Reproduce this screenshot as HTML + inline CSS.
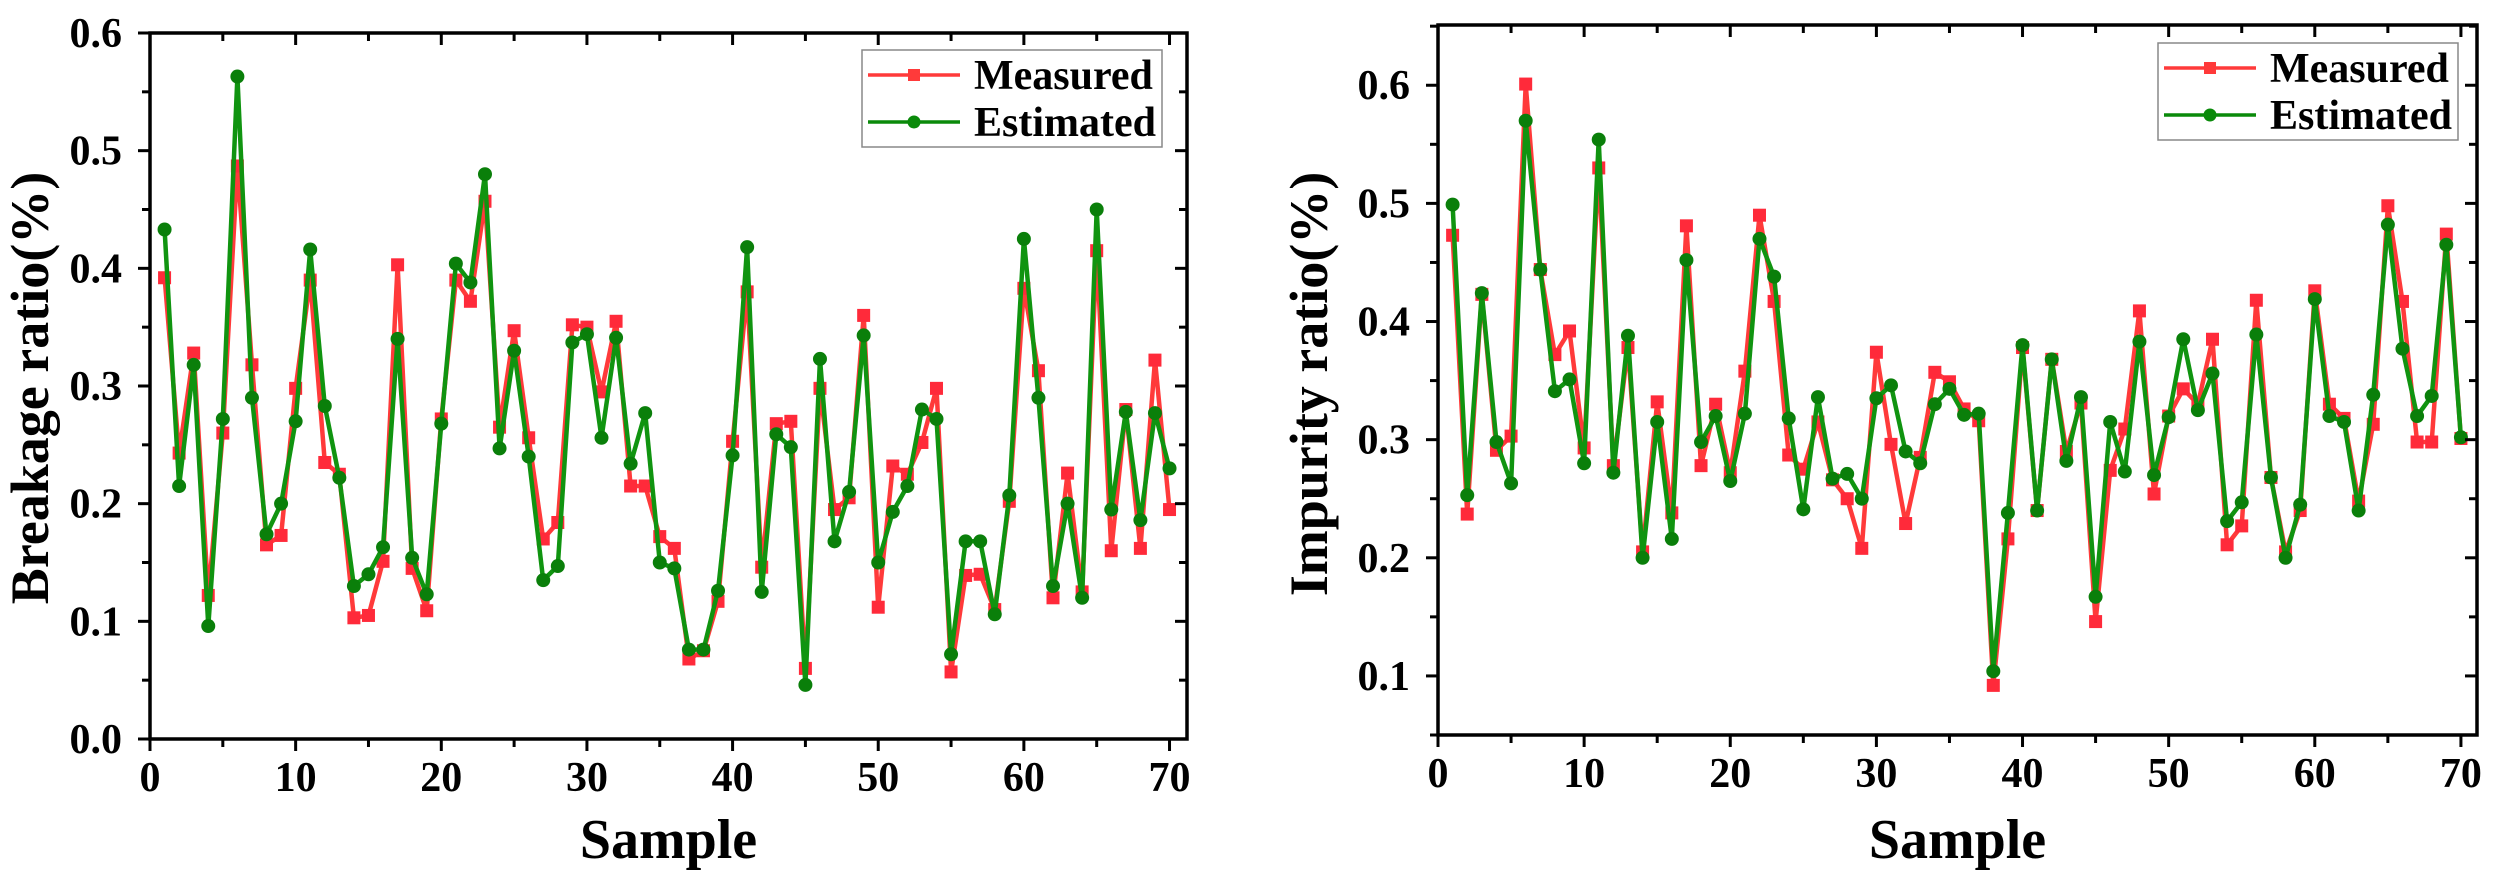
<!DOCTYPE html>
<html><head><meta charset="utf-8"><style>
html,body{margin:0;padding:0;background:#fff;}
svg{display:block;}
svg text{font-family:"Liberation Serif","Times New Roman",serif;font-weight:bold;fill:#000;}
</style></head>
<body>
<svg id="fig" width="2500" height="880" viewBox="0 0 2500 880" xmlns="http://www.w3.org/2000/svg"></svg>
<script>
const samples = Array.from({length:70},(_,i)=>i+1);
const breakMeasured = [.392,.243,.328,.122,.260,.487,.318,.165,.173,.298,.390,.235,.225,.103,.105,.151,.403,.145,.109,.272,.390,.372,.457,.265,.347,.256,.170,.184,.352,.350,.295,.355,.215,.215,.172,.162,.068,.075,.117,.253,.380,.146,.268,.270,.060,.298,.195,.205,.360,.112,.232,.225,.252,.298,.057,.139,.140,.110,.202,.383,.313,.120,.226,.125,.415,.160,.280,.162,.322,.195];
const breakEstimated = [.433,.215,.318,.096,.272,.563,.290,.174,.200,.270,.416,.283,.222,.130,.140,.163,.340,.154,.123,.268,.404,.388,.480,.247,.330,.240,.135,.147,.337,.344,.256,.341,.234,.277,.150,.145,.076,.076,.126,.241,.418,.125,.259,.248,.046,.323,.168,.210,.343,.150,.193,.215,.280,.272,.072,.168,.168,.106,.207,.425,.290,.130,.200,.120,.450,.195,.278,.186,.277,.230];
const impMeasured = [.473,.237,.423,.291,.303,.601,.444,.372,.392,.293,.530,.278,.378,.205,.332,.238,.481,.278,.330,.272,.358,.490,.417,.287,.275,.315,.266,.250,.208,.374,.296,.229,.285,.357,.349,.326,.316,.092,.216,.378,.240,.368,.290,.331,.146,.274,.309,.409,.254,.320,.343,.330,.385,.211,.227,.418,.268,.205,.240,.426,.330,.318,.248,.313,.498,.417,.298,.298,.474,.301];
const impEstimated = [.499,.253,.424,.298,.263,.570,.444,.341,.351,.280,.554,.272,.388,.200,.315,.216,.452,.298,.320,.265,.322,.470,.438,.318,.241,.336,.267,.271,.250,.335,.346,.290,.280,.330,.343,.321,.322,.104,.238,.380,.240,.368,.282,.336,.167,.315,.273,.383,.270,.319,.385,.325,.356,.231,.247,.389,.268,.200,.245,.419,.320,.315,.240,.338,.482,.377,.320,.337,.465,.302];
const xTicks = [0,10,20,30,40,50,60,70];
const yTicksLeft = [0.0,0.1,0.2,0.3,0.4,0.5,0.6];
const yTicksRight = [0.1,0.2,0.3,0.4,0.5,0.6];

const NS="http://www.w3.org/2000/svg";
const svg=document.getElementById('fig');
const FONT='"Liberation Serif", "Times New Roman", serif';
function mk(tag,attrs,parent){const e=document.createElementNS(NS,tag);for(const k in attrs)e.setAttribute(k,attrs[k]);if(tag==='text'){e.setAttribute('font-family',FONT);e.setAttribute('font-weight','bold');}(parent||svg).appendChild(e);return e;}

function chart(cfg){
  const g=mk('g',{});
  
  
  const sx=v=>cfg.L+(v-cfg.x0)/(cfg.x1-cfg.x0)*(cfg.R-cfg.L);
  const sy=v=>cfg.B-(v-cfg.y0)/(cfg.y1-cfg.y0)*(cfg.B-cfg.T);
  const series=[
    {vals:cfg.meas,color:'#ff2a3a',line:'#ff3a3a',sq:true,name:'measured-series'},
    {vals:cfg.est,color:'#0a7f0a',line:'#109410',sq:false,name:'estimated-series'}];
  series.forEach(s=>{
    const sg=mk('g',{},g);
    
    
    const pts=s.vals.map((v,i)=>sx(samples[i]).toFixed(1)+','+sy(v).toFixed(1)).join(' ');
    const pl=mk('polyline',{points:pts,fill:'none',stroke:s.line,'stroke-width':4.5,'stroke-linejoin':'round'},sg);
    
    
    s.vals.forEach((v,i)=>{
      let m;
      if(s.sq){m=mk('rect',{x:sx(samples[i])-6.5,y:sy(v)-6.5,width:13,height:13,fill:s.color},sg);}
      else{m=mk('circle',{cx:sx(samples[i]),cy:sy(v),r:7,fill:s.color},sg);}
      
      
    });
  });
  const fr=mk('rect',{x:cfg.L,y:cfg.T,width:cfg.R-cfg.L,height:cfg.B-cfg.T,fill:'none',stroke:'#000','stroke-width':3.5},g);
  
  
  for(let v=0;v<=70;v+=5){
    const x=sx(v), len=v%10===0?12:8;
    mk('line',{x1:x,y1:cfg.B,x2:x,y2:cfg.B+len,stroke:'#000','stroke-width':3},g);
    mk('line',{x1:x,y1:cfg.T,x2:x,y2:cfg.T+len,stroke:'#000','stroke-width':3},g);
  }
  xTicks.forEach(v=>{
    const t=mk('text',{x:sx(v),y:cfg.B+52,'font-size':42,'text-anchor':'middle'},g);
    t.textContent=v;
    
    
  });
  for(let v=Math.ceil(cfg.y0*20)/20; v<=cfg.y1+1e-9; v+=0.05){
    const y=sy(v), major=Math.abs(Math.round(v*10)-v*10)<1e-6, len=major?12:8;
    mk('line',{x1:cfg.L-len,y1:y,x2:cfg.L,y2:y,stroke:'#000','stroke-width':3},g);
    mk('line',{x1:cfg.R-len,y1:y,x2:cfg.R,y2:y,stroke:'#000','stroke-width':3},g);
  }
  cfg.yt.forEach(v=>{
    const t=mk('text',{x:cfg.L-28,y:sy(v)+14,'font-size':42,'text-anchor':'end'},g);
    t.textContent=v.toFixed(1);
    
    
  });
  const xt=mk('text',{x:(cfg.L+cfg.R)/2,y:858,'font-size':56,'text-anchor':'middle'},g);
  xt.textContent='Sample';
  
  
  const yt=mk('text',{x:0,y:0,'font-size':54,'text-anchor':'middle',transform:`translate(${cfg.ytx},${cfg.yty}) rotate(-90)`},g);
  yt.textContent=cfg.ytitle;
  
  
  const lg=mk('g',{},g);
  
  
  const lx=cfg.lx, ly=cfg.ly;
  mk('rect',{x:lx,y:ly,width:300,height:97,fill:'#fff',stroke:'#888','stroke-width':1.5},lg);
  [['Measured','#ff3a3a',true,25],['Estimated','#0a8a0a',false,72]].forEach(([lab,c,sq,dy])=>{
    const e=mk('g',{},lg);
    
    
    mk('line',{x1:lx+6,y1:ly+dy,x2:lx+98,y2:ly+dy,stroke:c,'stroke-width':3.5},e);
    if(sq)mk('rect',{x:lx+46,y:ly+dy-6,width:12,height:12,fill:c},e);
    else mk('circle',{cx:lx+52,cy:ly+dy,r:6.5,fill:c},e);
    const t=mk('text',{x:lx+112,y:ly+dy+14,'font-size':42},e);
    t.textContent=lab;
  });
}
chart({name:'breakage-chart',L:150,R:1187,T:33,B:739,x0:0,x1:71.2,y0:0,y1:0.6,
  meas:breakMeasured,est:breakEstimated,yt:yTicksLeft,ytitle:'Breakage ratio(%)',ytx:48,yty:388,lx:862,ly:50});
chart({name:'impurity-chart',L:1438,R:2477,T:25,B:735,x0:0,x1:71.1,y0:0.05,y1:0.651,
  meas:impMeasured,est:impEstimated,yt:yTicksRight,ytitle:'Impurity ratio(%)',ytx:1327,yty:384,lx:2158,ly:43});
</script>
</body></html>
